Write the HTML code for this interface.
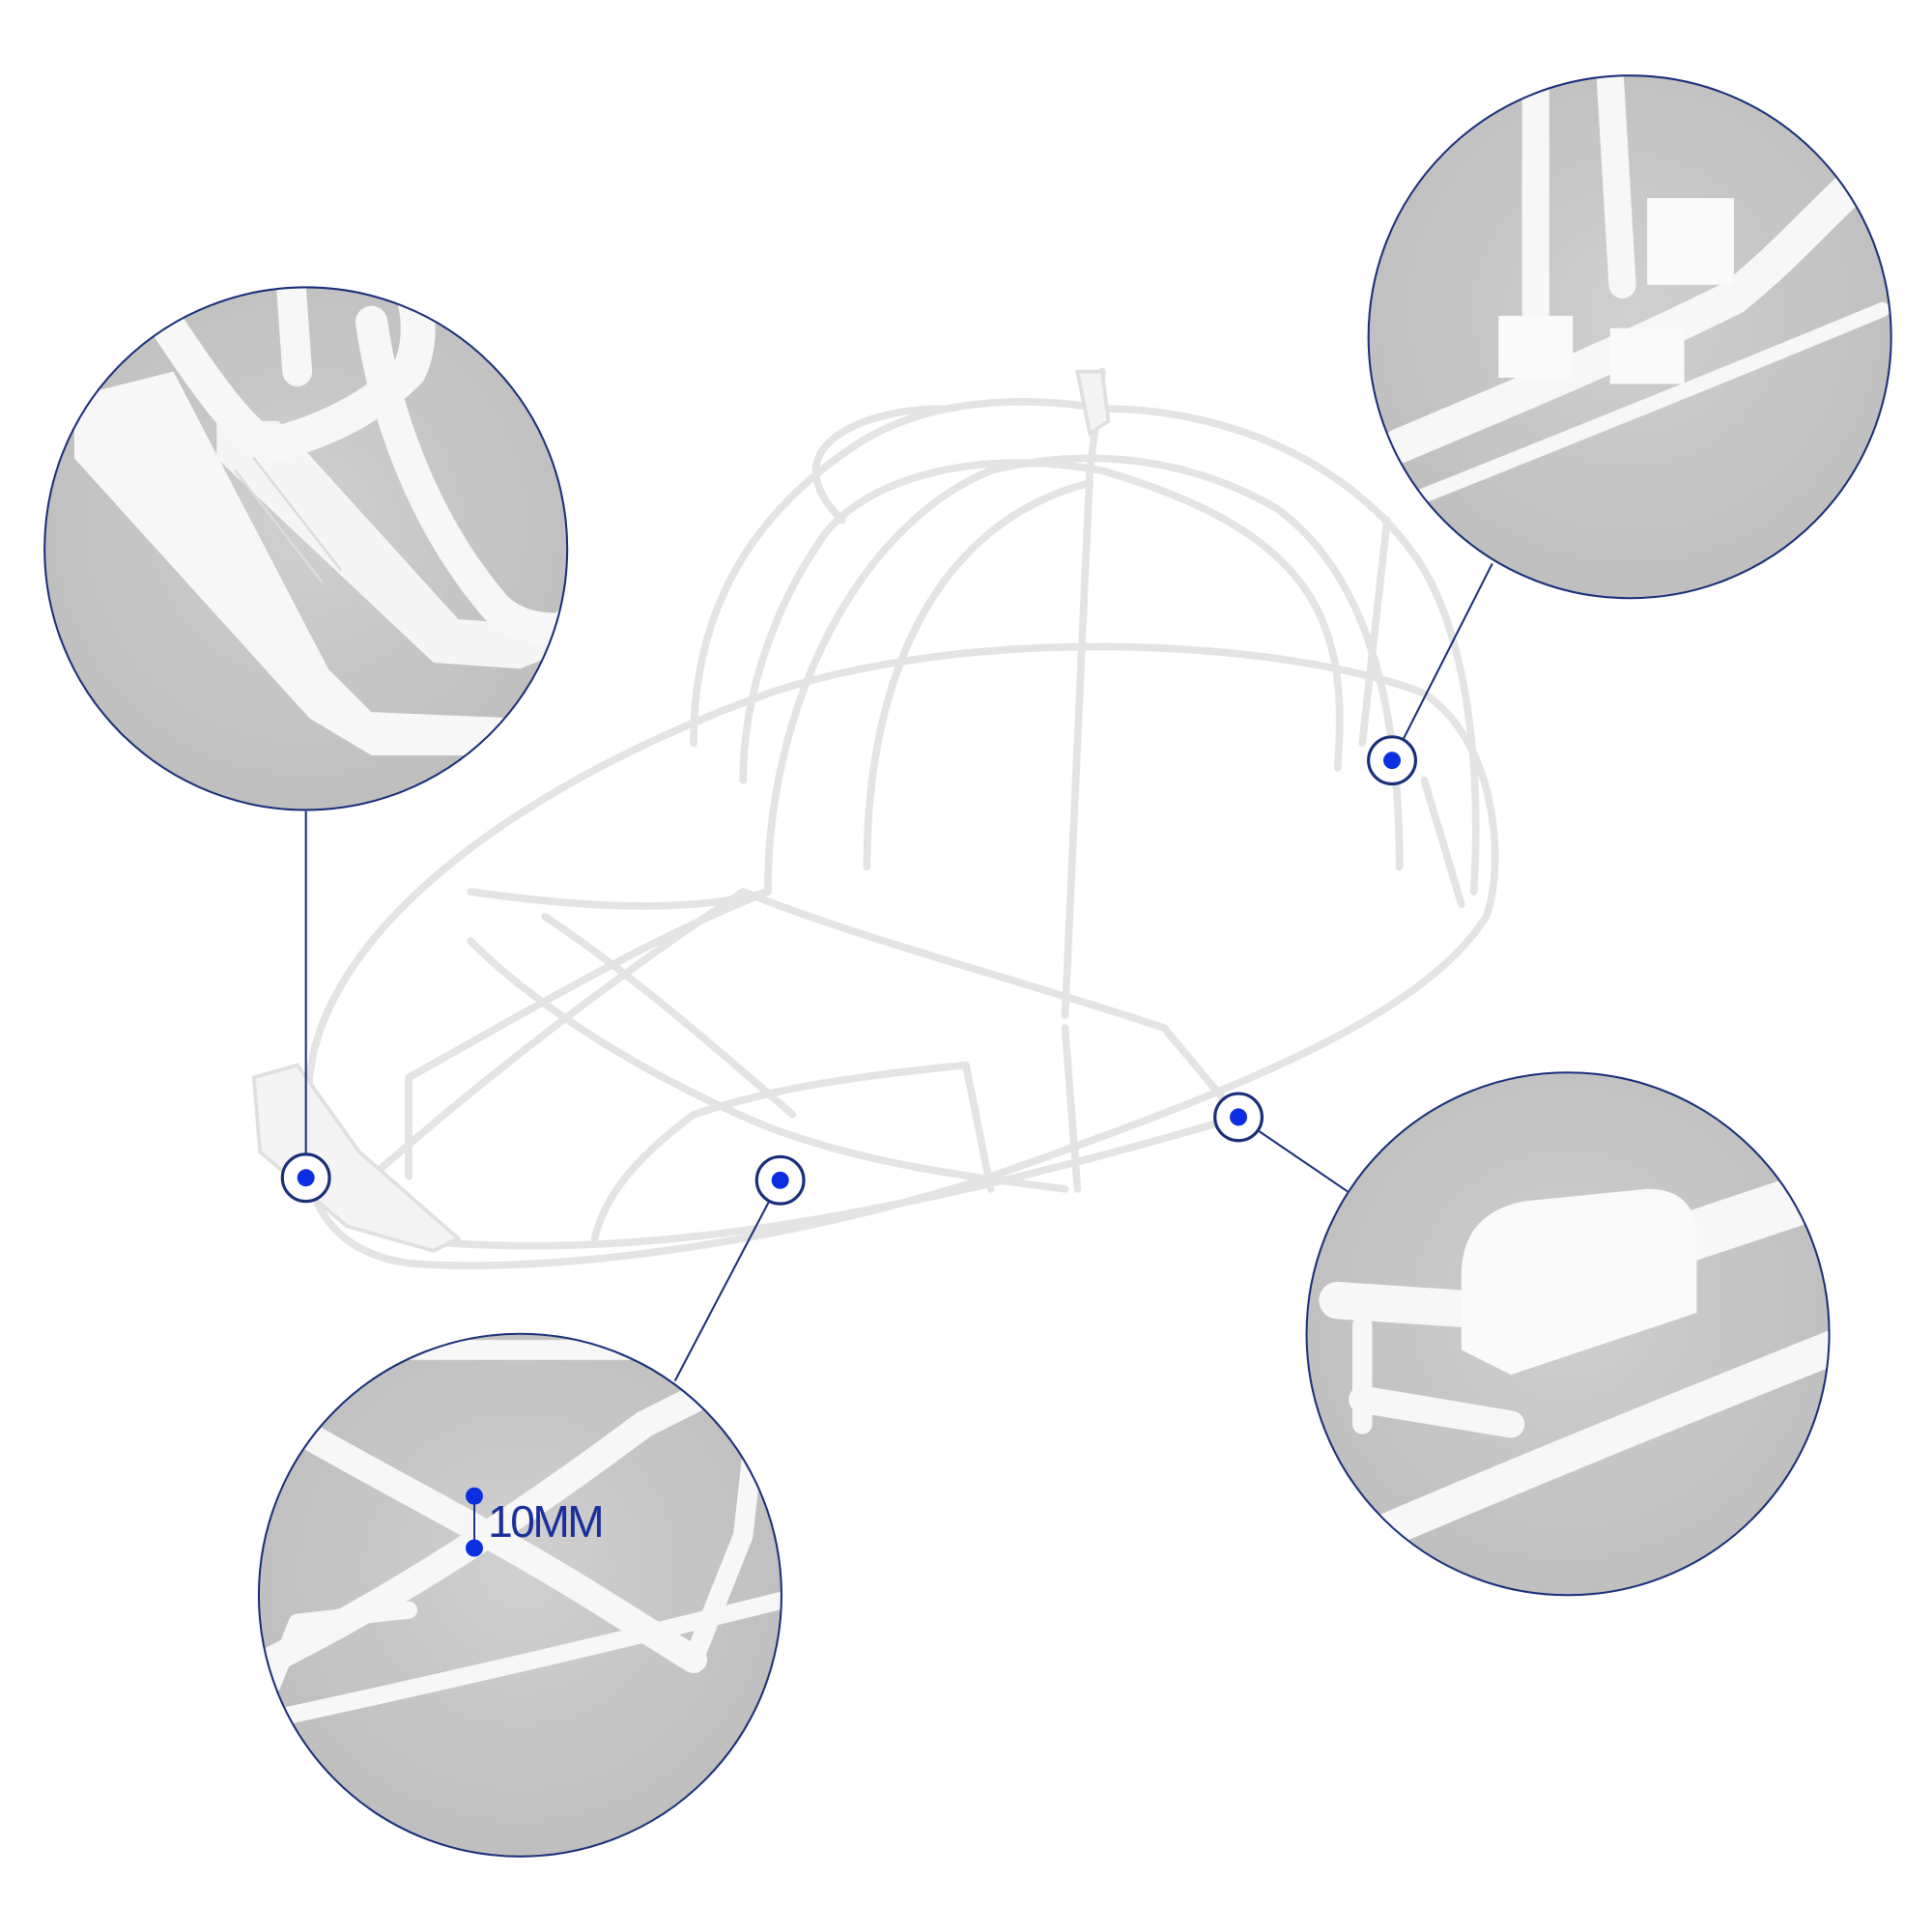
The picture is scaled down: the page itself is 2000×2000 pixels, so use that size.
<!DOCTYPE html>
<html><head><meta charset="utf-8"><style>html,body{margin:0;padding:0;background:#fff}svg{display:block}</style></head>
<body>
<svg width="2000" height="2000" viewBox="0 0 1560 1560" xmlns="http://www.w3.org/2000/svg">
<defs>
<radialGradient id="g" cx="50%" cy="45%" r="60%"><stop offset="0" stop-color="#d0d0d0"/><stop offset="1" stop-color="#bdbdbd"/></radialGradient>
<clipPath id="c1"><circle cx="247" cy="443" r="211"/></clipPath>
<clipPath id="c2"><circle cx="1316" cy="272" r="211"/></clipPath>
<clipPath id="c3"><circle cx="1266" cy="1077" r="211"/></clipPath>
<clipPath id="c4"><circle cx="420" cy="1288" r="211"/></clipPath>
</defs>
<!-- cap -->
<g fill="none" stroke="#e4e4e4" stroke-width="6" stroke-linecap="round" stroke-linejoin="round">
<path d="M250 870 C260 760 400 640 620 560 C800 500 1050 520 1150 560 C1210 600 1215 700 1200 740 C1150 820 1000 880 800 950 C650 1000 450 1030 330 1020 C260 1010 235 960 250 870Z"/>
<path d="M320 1000 C500 1020 700 990 1000 902"/>
<path d="M560 600 C560 500 600 420 690 360 C750 320 830 320 890 330 C1000 330 1100 380 1150 460 C1190 530 1195 640 1190 720"/>
<path d="M620 720 C620 560 700 420 800 380 C880 360 960 370 1030 410 C1100 460 1130 560 1130 700"/>
<path d="M860 820 L880 380 L890 300"/>
<path d="M700 700 C700 540 760 420 880 390"/>
<path d="M1080 620 C1090 500 1060 430 890 380 C780 360 690 390 660 440 C620 500 600 570 600 630"/>
<path d="M680 420 C620 360 700 330 760 330"/>
<path d="M1100 600 L1120 420"/>
<path d="M1180 730 L1150 630"/>
<path d="M300 950 C380 880 480 800 600 720 C700 760 820 790 940 830 L1000 902"/>
<path d="M330 950 L330 870 C420 820 520 760 620 720"/>
<path d="M480 1000 C490 960 520 930 560 900 C620 880 680 870 780 860 L800 960"/>
<path d="M380 760 C420 800 500 860 620 910 C700 940 780 950 860 960"/>
<path d="M440 740 C500 780 560 830 640 900"/>
<path d="M380 720 C450 730 550 740 620 720"/>
<path d="M860 830 L870 960"/>
</g>
<g fill="#f4f4f4" stroke="#e0e0e0" stroke-width="3">
<path d="M205 870 L240 860 L290 930 L370 1000 L350 1010 L280 990 L210 930Z"/>
<path d="M870 300 L890 300 L895 340 L880 350Z"/>
</g>
<!-- connectors -->
<g stroke="#1a2f7a" stroke-width="1.6" fill="none">
<line x1="247" y1="655" x2="247" y2="932"/>
<line x1="621" y1="970" x2="545" y2="1115"/>
<line x1="1016" y1="913" x2="1088" y2="962"/>
<line x1="1133" y1="597" x2="1205" y2="455"/>
</g>
<g fill="#fff" stroke="#1a2f7a" stroke-width="2.5">
<circle cx="247" cy="951" r="19"/><circle cx="630" cy="953" r="19"/><circle cx="1000" cy="902" r="19"/><circle cx="1124" cy="614" r="19"/>
</g>
<g fill="#0a2ee0"><circle cx="247" cy="951" r="7"/><circle cx="630" cy="953" r="7"/><circle cx="1000" cy="902" r="7"/><circle cx="1124" cy="614" r="7"/></g>
<!-- circle 1 -->
<circle cx="247" cy="443" r="211" fill="url(#g)"/>
<g clip-path="url(#c1)" stroke-linecap="round" stroke-linejoin="round">
<path d="M60 320 L140 300 L265 540 L300 575 L420 580 L460 560 L460 610 L300 610 L250 580 L60 370Z" fill="#f7f7f7"/>
<path d="M175 340 L225 340 L370 500 L440 505 L470 470 L470 520 L420 540 L350 535 L175 370Z" fill="#f5f5f5"/>
<path d="M130 255 C160 300 190 345 215 360 C260 350 300 330 330 300 C340 280 340 250 330 230" fill="none" stroke="#f7f7f7" stroke-width="28"/>
<path d="M235 230 L240 300" fill="none" stroke="#f7f7f7" stroke-width="24"/>
<path d="M300 260 C310 330 340 420 400 490 C420 510 450 510 470 505" fill="none" stroke="#f7f7f7" stroke-width="26"/>
<path d="M190 380 L260 470 M205 370 L275 460" stroke="#dcdcdc" stroke-width="2"/>
</g>
<circle cx="247" cy="443" r="211" fill="none" stroke="#1a2f7a" stroke-width="1.6"/>
<!-- circle 2 -->
<circle cx="1316" cy="272" r="211" fill="url(#g)"/>
<g clip-path="url(#c2)" fill="none" stroke="#f7f7f7" stroke-linecap="round" stroke-linejoin="round">
<path d="M1240 60 L1240 260" stroke-width="22"/>
<path d="M1300 60 L1310 230" stroke-width="22"/>
<path d="M1130 360 C1200 330 1300 290 1400 240 C1450 200 1480 160 1520 130" stroke-width="28"/>
<path d="M1150 400 C1250 360 1400 300 1520 250" stroke-width="12"/>
</g>
<g clip-path="url(#c2)" fill="#fafafa"><rect x="1210" y="255" width="60" height="50"/><rect x="1330" y="160" width="70" height="70"/><rect x="1300" y="265" width="60" height="45"/></g>
<circle cx="1316" cy="272" r="211" fill="none" stroke="#1a2f7a" stroke-width="1.6"/>
<!-- circle 3 -->
<circle cx="1266" cy="1077" r="211" fill="url(#g)"/>
<g clip-path="url(#c3)" fill="none" stroke="#f7f7f7" stroke-linecap="round" stroke-linejoin="round">
<path d="M1080 1050 L1230 1060" stroke-width="30"/>
<path d="M1100 1130 L1220 1150" stroke-width="22"/>
<path d="M1110 1240 C1250 1180 1400 1120 1500 1080" stroke-width="28"/>
<path d="M1360 1000 L1480 960" stroke-width="40"/>
<path d="M1100 1070 L1100 1150" stroke-width="16"/>
</g>
<g clip-path="url(#c3)" fill="#fafafa"><path d="M1180 1030 Q1180 980 1230 970 L1330 960 Q1370 960 1370 1000 L1370 1060 L1220 1110 L1180 1090Z"/></g>
<circle cx="1266" cy="1077" r="211" fill="none" stroke="#1a2f7a" stroke-width="1.6"/>
<!-- circle 4 -->
<circle cx="420" cy="1288" r="211" fill="url(#g)"/>
<g clip-path="url(#c4)" fill="none" stroke="#f7f7f7" stroke-linecap="round" stroke-linejoin="round">
<path d="M250 1160 C320 1200 400 1240 480 1290 L560 1340" stroke-width="22"/>
<path d="M220 1340 C300 1300 400 1240 520 1150 L560 1130" stroke-width="22"/>
<path d="M240 1130 L300 1090 L520 1090" stroke-width="16"/>
<path d="M210 1390 C350 1360 480 1330 640 1290" stroke-width="14"/>
<path d="M220 1360 L240 1310 L330 1300" stroke-width="14"/>
<path d="M560 1340 L600 1240 L610 1150" stroke-width="16"/>
</g>
<circle cx="420" cy="1288" r="211" fill="none" stroke="#1a2f7a" stroke-width="1.6"/>
<line x1="383" y1="1208" x2="383" y2="1250" stroke="#1a2f7a" stroke-width="1.5"/>
<circle cx="383" cy="1208" r="7" fill="#0a2ee0"/><circle cx="383" cy="1250" r="7" fill="#0a2ee0"/>
<text x="394" y="1241" font-family="Liberation Sans, sans-serif" font-size="36" fill="#1a2f9a" letter-spacing="-2">10MM</text>
</svg>
</body></html>
